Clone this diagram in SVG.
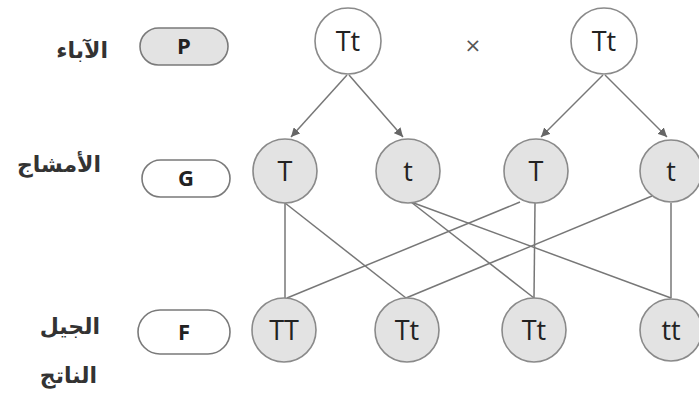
<svg xmlns="http://www.w3.org/2000/svg" width="699" height="398" viewBox="0 0 699 398">
<defs>
<marker id="ah" viewBox="0 0 10 10" refX="10" refY="5" markerWidth="9" markerHeight="9" markerUnits="userSpaceOnUse" orient="auto">
<path d="M0,0 L10,5 L0,10 z" fill="#666"/>
</marker>
<style>
.pill{stroke:#7a7a7a;stroke-width:1.6}
.circ{stroke:#8a8a8a;stroke-width:1.6}
.w{fill:#ffffff}
.g{fill:#e3e3e3}
.lbl{font-family:"Open Sans","DejaVu Sans",sans-serif;font-size:27px;fill:#222;text-anchor:middle}
.pl{font-family:"Open Sans","DejaVu Sans",sans-serif;font-size:22px;font-weight:bold;fill:#222;text-anchor:middle}
.ar{font-family:"DejaVu Sans","Noto Sans",sans-serif;font-size:22px;font-weight:bold;fill:#333;text-anchor:end}
.ln{stroke:#777;stroke-width:1.5;fill:none}
</style>
</defs>
<rect width="699" height="398" fill="#ffffff"/>

<g id="labels">
<text class="ar" x="108" y="58">الآباء</text>
<text class="ar" x="101" y="172">الأمشاج</text>
<text class="ar" x="100" y="334">الجيل</text>
<text class="ar" x="97" y="383">الناتج</text>
</g>

<g id="pill-P"><rect class="pill g" x="140" y="28" width="88" height="37" rx="18.5"/><text class="pl" x="184" y="54">P</text></g>
<g id="pill-G"><rect class="pill w" x="142" y="160" width="88" height="37" rx="18.5"/><text class="pl" x="186" y="186">G</text></g>
<g id="pill-F"><rect class="pill w" x="138" y="310" width="92" height="44" rx="22"/><text class="pl" x="184" y="340">F</text></g>

<g id="connectors">
<line class="ln" x1="347" y1="75" x2="291" y2="137" marker-end="url(#ah)"/>
<line class="ln" x1="349" y1="75" x2="403" y2="137" marker-end="url(#ah)"/>
<line class="ln" x1="603" y1="75" x2="541" y2="137" marker-end="url(#ah)"/>
<line class="ln" x1="605" y1="75" x2="667" y2="137" marker-end="url(#ah)"/>
<line class="ln" x1="285" y1="203" x2="285" y2="298"/>
<line class="ln" x1="285" y1="203" x2="406" y2="298"/>
<line class="ln" x1="411" y1="202" x2="534" y2="298"/>
<line class="ln" x1="411" y1="202" x2="671" y2="298"/>
<line class="ln" x1="520" y1="202" x2="287" y2="298"/>
<line class="ln" x1="535" y1="203" x2="534" y2="298"/>
<line class="ln" x1="652" y1="196" x2="406" y2="298"/>
<line class="ln" x1="671" y1="203" x2="671" y2="298"/>
</g>

<g id="p1"><circle class="circ w" cx="348" cy="41" r="33"/><text class="lbl" x="348" y="51">Tt</text></g>
<text id="cross" x="473" y="52" font-family="DejaVu Sans,sans-serif" font-size="20" fill="#555" text-anchor="middle">×</text>
<g id="p2"><circle class="circ w" cx="604" cy="41" r="33"/><text class="lbl" x="604" y="51">Tt</text></g>

<g id="g1"><circle class="circ g" cx="285" cy="171" r="32"/><text class="lbl" x="285" y="181">T</text></g>
<g id="g2"><circle class="circ g" cx="408" cy="171" r="32"/><text class="lbl" x="408" y="181">t</text></g>
<g id="g3"><circle class="circ g" cx="536" cy="171" r="32"/><text class="lbl" x="536" y="181">T</text></g>
<g id="g4"><circle class="circ g" cx="671" cy="171" r="31"/><text class="lbl" x="671" y="181">t</text></g>

<g id="f1"><circle class="circ g" cx="284" cy="330" r="32"/><text class="lbl" x="284" y="340">TT</text></g>
<g id="f2"><circle class="circ g" cx="407" cy="330" r="32"/><text class="lbl" x="407" y="340">Tt</text></g>
<g id="f3"><circle class="circ g" cx="534" cy="330" r="32"/><text class="lbl" x="534" y="340">Tt</text></g>
<g id="f4"><circle class="circ g" cx="671" cy="330" r="31"/><text class="lbl" x="671" y="340">tt</text></g>
</svg>
